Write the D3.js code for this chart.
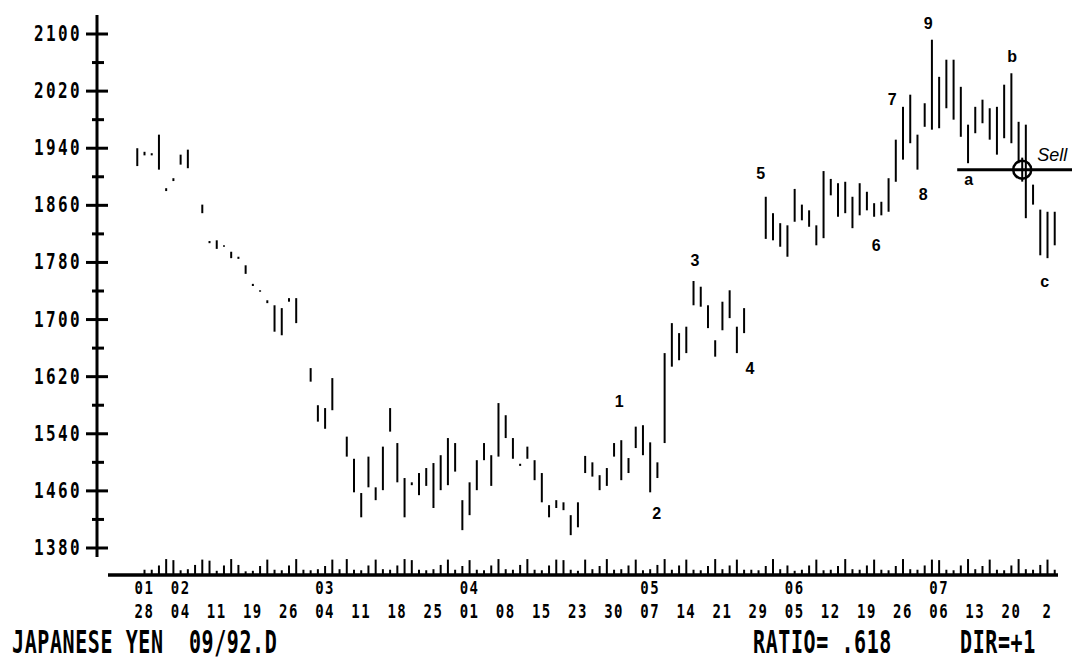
<!DOCTYPE html>
<html><head><meta charset="utf-8">
<script src="https://cdn.jsdelivr.net/npm/d3@7"></script>
<style>body{margin:0;background:#fff}svg{display:block}</style></head>
<body><svg id="c" width="1072" height="660"></svg>
<script>
// ---- axis ticks / labels ----
const yTickValues = [1380,1460,1540,1620,1700,1780,1860,1940,2020,2100];
const yMinorValues = [1420,1500,1580,1660,1740,1820,1900,1980,2060];
const monthDays = [0,5,25,45,70,90,110];
const monthLabels = ["01","02","03","04","05","06","07"];
const weekDays = [0,5,10,15,20,25,30,35,40,45,50,55,60,65,70,75,80,85,90,95,100,105,110,115,120,125];
const weekLabels = ["28","04","11","19","26","04","11","18","25","01","08","15","23","30","07","14","21","29","05","12","19","26","06","13","20","2"];

// ---- daily bars (trading-day index, high, low) ----
const barDay  = [-1,0,1,2,3,4,5,6,8,9,10,11,12,13,14,15,16,17,18,19,20,21,23,24,25,26,28,29,30,31,32,33,34,35,36,37,38,39,40,41,42,43,44,45,46,47,48,49,50,51,52,53,54,55,56,57,58,59,60,61,62,63,64,65,66,67,68,69,70,71,72,73,74,75,76,77,78,79,80,81,82,83,86,87,88,89,90,91,92,93,94,95,96,97,98,99,100,101,102,103,104,105,106,107,108,109,110,111,112,113,114,115,116,117,118,119,120,121,122,123,124,125,126];
const barHigh = [1940,1935,1933,1959,1884,1898,1931,1938,1861,1810,1811,1804,1795,1788,1776,1750,1741,1727,1720,1716,1730,1730,1632,1580,1576,1618,1536,1505,1457,1508,1465,1522,1576,1527,1478,1472,1485,1492,1499,1510,1534,1527,1447,1472,1503,1527,1510,1583,1566,1534,1498,1522,1503,1485,1440,1447,1444,1426,1444,1509,1500,1482,1492,1527,1531,1506,1550,1552,1528,1500,1653,1695,1681,1690,1754,1746,1720,1671,1725,1741,1690,1716,1872,1849,1835,1832,1883,1861,1853,1832,1908,1897,1891,1893,1872,1891,1879,1863,1865,1898,1952,1998,2015,1959,2003,2092,2040,2064,2064,2026,1973,1998,2008,1996,1998,2029,2045,1977,1973,1889,1854,1851,1851];
const barLow  = [1915,1930,1930,1910,1880,1894,1917,1912,1849,1807,1799,1802,1786,1785,1764,1747,1739,1723,1683,1678,1725,1695,1613,1557,1547,1573,1508,1458,1423,1465,1447,1461,1543,1472,1423,1468,1454,1467,1436,1461,1468,1487,1405,1426,1461,1503,1467,1508,1534,1505,1495,1505,1475,1444,1423,1436,1433,1398,1409,1485,1480,1461,1467,1508,1475,1485,1520,1510,1458,1478,1527,1634,1643,1653,1720,1718,1688,1648,1685,1702,1653,1681,1813,1811,1802,1788,1837,1839,1830,1804,1814,1874,1844,1849,1828,1846,1853,1844,1846,1851,1893,1924,1947,1910,1970,1966,1968,1996,1980,1956,1919,1961,1975,1952,1931,1954,1947,1919,1842,1861,1790,1786,1804];

// ---- daily volume marks along the base line, days 0..126 (estimated) ----
const volume = [8,8,16,28,26, 7,9,17,27,25, 6,16,28,17,5, 6,15,27,8,7, 16,28,8,7,9,
  15,27,9,28,8, 7,16,27,9,8, 16,28,26,8,7, 9,17,27,8,15, 26,8,7,16,28,
  9,8,17,28,8, 7,16,27,26,8, 6,27,9,15,28, 8,9,16,27,7, 9,17,28,8,16,
  27,8,7,15,28, 9,16,27,8,8, 7,15,28,9,16, 6,8,16,27,7, 8,15,28,9,8,
  16,27,8,7,15, 28,9,8,16,27, 26,8,7,16,28, 9,15,27,8,7, 16,28,9,8,17, 27,8];

// ---- wave annotations ----
const waveText  = ["1","2","3","4","5","6","7","8","9","a","b","c"];
const waveDay   = [65.7,70.9,76.2,83.8,85.3,101.3,103.5,107.8,108.5,114.1,120.1,124.6];
const wavePrice = [1586,1428,1783,1632,1905,1804,2009,1876,2115,1896,2069,1753];
const sellPrice = 1910, sellStartDay = 112.5, sellCircleDay = 121.5;

// ---- scales ----
const x = d3.scaleLinear().domain([0,125]).range([144.5,1047.5]);
const y = d3.scaleLinear().domain([1380,2100]).range([548,34]);
const vy = d3.scaleLinear().domain([0,30]).range([574,558]);
const svg = d3.select("#c");
svg.append("rect").attr("width",1072).attr("height",660).attr("fill","#fff");

const mono = "'DejaVu Sans Mono', monospace";

// y axis
svg.append("line").attr("x1",97).attr("x2",97).attr("y1",15).attr("y2",y(1380)+9)
  .attr("stroke","#000").attr("stroke-width",3);
svg.selectAll(".maj").data(yTickValues).join("line")
  .attr("x1",86).attr("x2",108).attr("y1",d=>y(d)).attr("y2",d=>y(d))
  .attr("stroke","#000").attr("stroke-width",3);
svg.selectAll(".min").data(yMinorValues).join("line")
  .attr("x1",92).attr("x2",104).attr("y1",d=>y(d)).attr("y2",d=>y(d))
  .attr("stroke","#000").attr("stroke-width",3);
svg.selectAll(".yl").data(yTickValues).join("text")
  .attr("transform",d=>`translate(82,${y(d)+7}) scale(1,1.3)`)
  .attr("text-anchor","end").attr("font-family",mono).attr("font-weight","bold")
  .attr("font-size",16).attr("letter-spacing",2.4).text(d=>d);

// volume marks
svg.selectAll(".vol").data(volume).join("line")
  .attr("x1",(d,i)=>x(i)).attr("x2",(d,i)=>x(i))
  .attr("y1",vy(0)).attr("y2",d=>vy(d))
  .attr("stroke","#000").attr("stroke-width",2);

// x baseline
svg.append("line").attr("x1",108).attr("x2",1058).attr("y1",575).attr("y2",575)
  .attr("stroke","#000").attr("stroke-width",3.5);

// x labels
svg.selectAll(".ml").data(monthDays).join("text")
  .attr("transform",d=>`translate(${x(d)},594) scale(1,1.2)`)
  .attr("text-anchor","middle").attr("font-family",mono).attr("font-weight","bold")
  .attr("font-size",14).attr("letter-spacing",1.5).text((d,i)=>monthLabels[i]);
svg.selectAll(".wl").data(weekDays).join("text")
  .attr("transform",d=>`translate(${x(d)},618) scale(1,1.4)`)
  .attr("text-anchor","middle").attr("font-family",mono).attr("font-weight","bold")
  .attr("font-size",14).attr("letter-spacing",1.5).text((d,i)=>weekLabels[i]);

// bars
svg.selectAll(".bar").data(barDay).join("line")
  .attr("x1",d=>x(d)).attr("x2",d=>x(d))
  .attr("y1",(d,i)=>y(barHigh[i])).attr("y2",(d,i)=>y(barLow[i]))
  .attr("stroke","#000").attr("stroke-width",2);

// wave labels
svg.selectAll(".wv").data(waveText).join("text")
  .attr("x",(d,i)=>x(waveDay[i])).attr("y",(d,i)=>y(wavePrice[i]))
  .attr("dy","0.36em").attr("text-anchor","middle")
  .attr("font-family","'Liberation Sans', Arial, sans-serif").attr("font-weight","bold")
  .attr("font-size",16).text(d=>d);

// sell line + marker
svg.append("line").attr("x1",x(sellStartDay)).attr("x2",1072).attr("y1",y(sellPrice)).attr("y2",y(sellPrice))
  .attr("stroke","#000").attr("stroke-width",3);
const cx = x(sellCircleDay), cy = y(sellPrice);
svg.append("circle").attr("cx",cx).attr("cy",cy).attr("r",9).attr("fill","none").attr("stroke","#000").attr("stroke-width",2.5);
svg.append("line").attr("x1",cx).attr("x2",cx).attr("y1",cy-12).attr("y2",cy+12).attr("stroke","#000").attr("stroke-width",2);
svg.append("text").attr("x",cx+15).attr("y",cy-9).attr("font-family","'Liberation Sans', Arial, sans-serif")
  .attr("font-style","italic").attr("font-size",18).text("Sell");

// footer
const foot = [["JAPANESE YEN  09/92.D",12],["RATIO= .618",753],["DIR=+1",960]];
svg.selectAll(".ft").data(foot).join("text")
  .attr("transform",d=>`translate(${d[1]},653) scale(1,1.6)`)
  .attr("font-family",mono).attr("font-weight","bold").attr("font-size",20)
  .attr("letter-spacing",0.6).style("white-space","pre").text(d=>d[0]);
</script></body></html>
